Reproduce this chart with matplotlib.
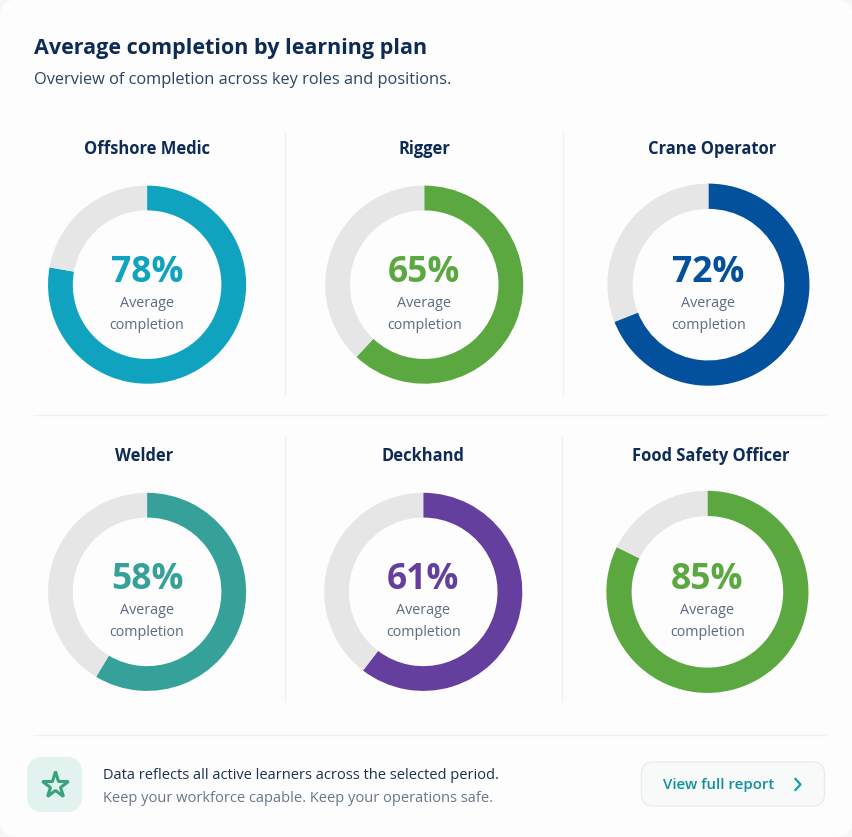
import matplotlib
matplotlib.use("Agg")
import matplotlib.pyplot as plt
from matplotlib.patches import FancyBboxPatch

W, H = 852, 837

roles = ["Offshore Medic", "Rigger", "Crane Operator", "Welder", "Deckhand", "Food Safety Officer"]
# printed labels, and the share of the ring actually filled in the picture
completion = [78, 65, 72, 58, 61, 85]
arc_share = [77.8, 62, 69, 58.6, 60.4, 82.3]
colors = ["#0fa3c0", "#5aa83f", "#03509c", "#35a198", "#653f9e", "#5aa83f"]
centers_x = [147, 424, 708, 147, 423, 707]
centers_y = [285, 285, 285, 592, 592, 592]
radii = [99, 99, 101, 99, 99, 101]
role_x = [147, 424, 712, 144.5, 423, 710]

plt.rcParams["font.family"] = ["Open Sans", "DejaVu Sans"]
NAVY = "#0d2b55"
GREY = "#5b6b80"
TRACK = "#e6e6e6"
RULE = "#f0f1f2"

fig = plt.figure(figsize=((W + 0.5) / 100, (H + 0.5) / 100), dpi=100, facecolor="#f6f6f7")

# page in pixel coordinates, y going down
bg = fig.add_axes([0, 0, 1, 1])
bg.set_xlim(0, W)
bg.set_ylim(H, 0)
bg.axis("off")
bg.add_patch(FancyBboxPatch((0, 0), W, H, boxstyle="round,pad=0,rounding_size=18",
                            fc="#fdfdfd", ec="none"))

bg.text(34, 48, "Average completion by learning plan", fontsize=15.45, fontweight="bold",
        color=NAVY, va="center")
bg.text(34, 80, "Overview of completion across key roles and positions.", fontsize=11.8,
        color="#2c4463", va="center")

# grid rules
for x0, y0, x1, y1 in [(285, 130, 285, 396), (563, 130, 563, 396), (285, 437, 285, 702),
                       (562, 437, 562, 702), (33, 415, 826, 415), (33, 735, 826, 735)]:
    bg.plot([x0, x1], [y0, y1], color=RULE, lw=1, solid_capstyle="butt")

for i, role in enumerate(roles):
    cx, cy, r = centers_x[i], centers_y[i], radii[i]
    bg.text(role_x[i], cy - 136.5, role, fontsize=11.9, fontweight="bold", color=NAVY,
            ha="center", va="center")

    ax = fig.add_axes([(cx - r) / W, 1 - (cy + r) / H, 2 * r / W, 2 * r / H])
    ax.pie([arc_share[i], 100 - arc_share[i]], colors=[colors[i], TRACK], startangle=90,
           counterclock=False, radius=1, wedgeprops={"width": 0.25, "linewidth": 0})
    ax.set_xlim(-1, 1)
    ax.set_ylim(-1, 1)

    bg.text(cx, cy - 12, f"{completion[i]}%", fontsize=25.5, fontweight="bold", color=colors[i],
            ha="center", va="center", zorder=5)
    bg.text(cx, cy + 18, "Average", fontsize=10.4, color=GREY, ha="center", va="center", zorder=5)
    bg.text(cx, cy + 40, "completion", fontsize=10.3, color=GREY, ha="center", va="center", zorder=5)

# footer
bg.add_patch(FancyBboxPatch((27, 757), 55, 55, boxstyle="round,pad=0,rounding_size=16",
                            fc="#e2f2ee", ec="none"))
bg.plot([55], [785], marker="*", ms=20, mfc="none", mec="#3aa17e", mew=2.2, ls="none")
bg.text(103, 775, "Data reflects all active learners across the selected period.", fontsize=10.52,
        color="#1b3050", va="center")
bg.text(103, 798, "Keep your workforce capable. Keep your operations safe.", fontsize=10.52,
        color="#66778b", va="center")
bg.add_patch(FancyBboxPatch((641, 762), 183, 44, boxstyle="round,pad=0,rounding_size=12",
                            fc="#f8f9f9", ec="#eaecee", lw=1))
bg.text(663, 785, "View full report", fontsize=10.8, fontweight="semibold", color="#0f8fa0", va="center")
bg.plot([795, 800, 795], [779, 784.5, 790], color="#0f9fb0", lw=1.6)

fig.savefig("out.png", dpi=100, facecolor=fig.get_facecolor())
